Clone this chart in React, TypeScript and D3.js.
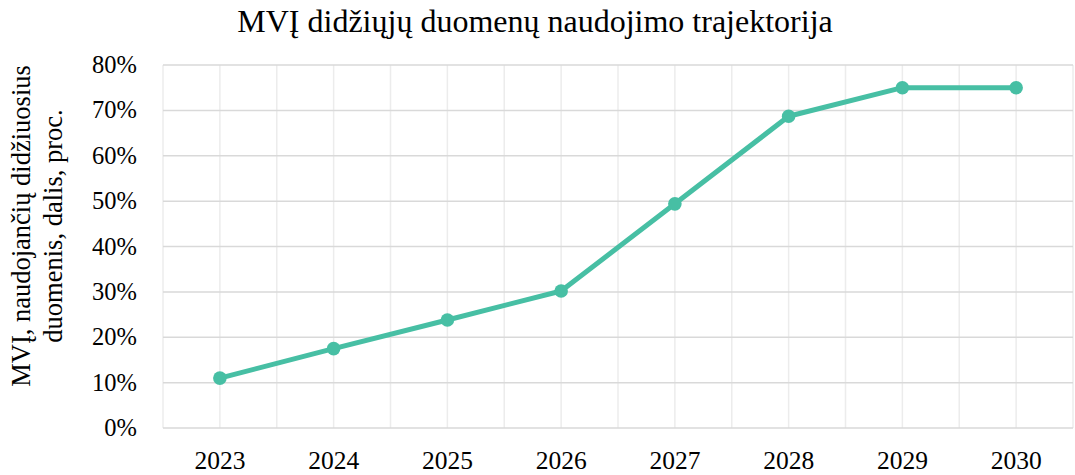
import React from "react";
import * as d3 from "d3";

const years = ["2023", "2024", "2025", "2026", "2027", "2028", "2029", "2030"];
const shares = [11, 17.5, 23.8, 30.2, 49.4, 68.7, 75, 75];
const yTicks = [0, 10, 20, 30, 40, 50, 60, 70, 80];
const title = "MVĮ didžiųjų duomenų naudojimo trajektorija";
const yLabelLines = ["MVĮ, naudojančių didžiuosius", "duomenis, dalis, proc."];

export default function App({
  width = 1075,
  height = 475,
  marginTop = 65,
  marginRight = 2,
  marginBottom = 47,
  marginLeft = 163
}) {
  // Category scale, one band per year
  const xScale = d3.scaleBand()
    .domain(years)
    .range([marginLeft, width - marginRight]);

  const yScale = d3.scaleLinear()
    .domain([0, 80])
    .range([height - marginBottom, marginTop]);

  const cx = (d: string) => (xScale(d) ?? 0) + xScale.bandwidth() / 2;

  const line = d3.line<number>()
    .x((d, i) => cx(years[i]))
    .y(d => yScale(d));

  // Vertical grid: band edges and band centres
  const vLines: number[] = [];
  years.forEach(y => {
    vLines.push(xScale(y) ?? 0);
    vLines.push(cx(y));
  });
  vLines.push(width - marginRight);

  const font = { fontFamily: "'Liberation Serif', 'Times New Roman', serif" };

  return (
    <svg
      width={width}
      height={height}
      style={{ position: "absolute", left: 0, top: 0, background: "#fff" }}
    >
      {/* Grid */}
      <g stroke="#ececec" strokeWidth="1.5">
        {vLines.map((x, i) => (
          <line key={i} x1={x} x2={x} y1={yScale(80)} y2={yScale(0)} />
        ))}
      </g>
      <g stroke="#d9d9d9" strokeWidth="1.5">
        {yTicks.map(t => (
          <line key={t} x1={marginLeft} x2={width - marginRight} y1={yScale(t)} y2={yScale(t)} />
        ))}
      </g>

      {/* Y tick labels */}
      {yTicks.map(t => (
        <text key={t} x={marginLeft - 26} y={yScale(t)} dy="0.33em"
          fontSize="24.5" textAnchor="end" fill="#000" style={font}>{t}%</text>
      ))}

      {/* X tick labels */}
      {years.map(y => (
        <text key={y} x={cx(y)} y={height - marginBottom + 41}
          fontSize="25.5" textAnchor="middle" fill="#000" style={font}>{y}</text>
      ))}

      {/* Line and points */}
      <path fill="none" stroke="#47bfa4" strokeWidth="5" strokeLinejoin="round" d={line(shares) ?? ""} />
      <g fill="#47bfa4">
        {shares.map((d, i) => (
          <circle key={i} cx={cx(years[i])} cy={yScale(d)} r="6.8" />
        ))}
      </g>

      {/* Title */}
      <text x={535} y={32} textAnchor="middle" fontSize="32" fill="#000" style={font}>{title}</text>

      {/* Y axis label */}
      {yLabelLines.map((l, i) => (
        <text key={i} transform={`translate(${30 + i * 32}, 226) rotate(-90)`}
          fontSize="26.5" textAnchor="middle" fill="#000" style={font}>{l}</text>
      ))}
    </svg>
  );
}
